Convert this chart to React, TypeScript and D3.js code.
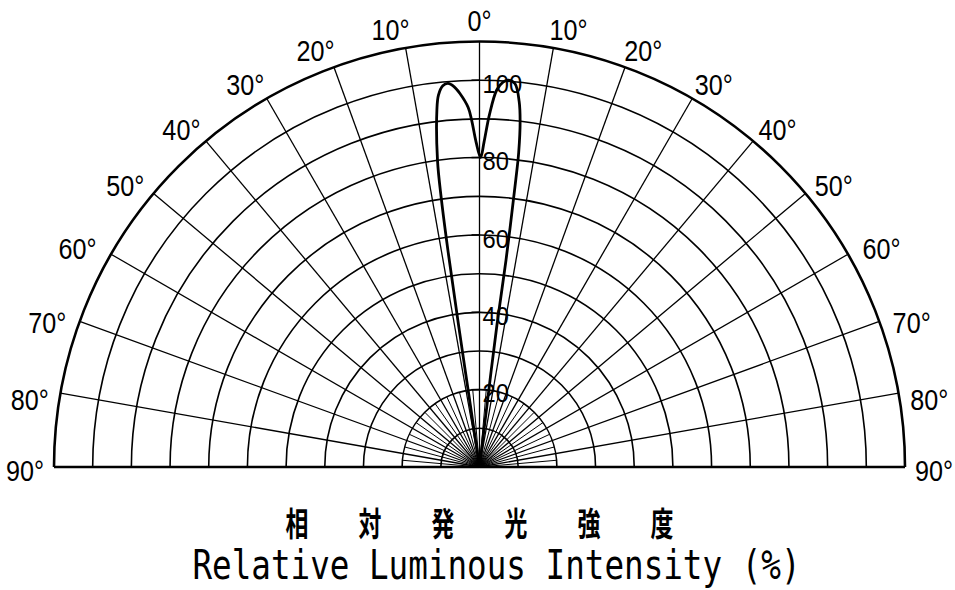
import React from "react";
import { scaleLinear, lineRadial, curveCatmullRom, range } from "d3";

// angle (deg, negative = left of axis) and relative intensity (%) along the traced curve
const curveAngles = [
  -8.5, -8.4, -8.4, -8.3, -8.1, -7.8, -6.8, -6.3, -5.5, -4.7, -3.8, -3.0, -1.8, -1.3, -0.6, 0.2,
  0.8, 1.6, 2.6, 3.5, 4.3, 5.3, 6.2, 6.7, 7.1, 7.2, 7.3, 7.0, 6.9, 6.9,
];
const curveValues = [
  0, 10, 37, 56, 70, 80, 93, 96.7, 99, 99.5, 98.5, 96.7, 93, 89.7, 84, 80,
  84, 91, 97.5, 99.7, 100.3, 99.5, 95, 90, 82, 75, 54, 37, 10, 0,
];

const ringValues = [10, 20, 30, 40, 50, 60, 70, 80, 90, 100, 110];
const radialLabels = [20, 40, 60, 80, 100];
const angleTicks = [0, 10, 20, 30, 40, 50, 60, 70, 80, 90];
const titleJa = ["相", "対", "発", "光", "強", "度"];
const titleEn = "Relative Luminous Intensity (%)";

const W = 955;
const H = 590;
const cx = 479.5;
const cy = 467;
const R = 425.5;

export default function App() {
  const r = scaleLinear().domain([0, 110]).range([0, R]);
  const toRad = (d: number) => (d * Math.PI) / 180;
  const pt = (deg: number, rad: number) => [cx + rad * Math.sin(toRad(deg)), cy - rad * Math.cos(toRad(deg))];

  const pts = curveAngles.map((a, i) => ({ a, v: curveValues[i] }));
  const curve = lineRadial<{ a: number; v: number }>()
    .angle((d) => toRad(d.a))
    .radius((d) => r(d.v))
    .curve(curveCatmullRom.alpha(0.5));

  const semi = (rad: number) => `M${cx - rad},${cy} A${rad},${rad} 0 0 1 ${cx + rad},${cy}`;

  const majorAngles = range(-90, 91, 10);
  const minorAngles = range(-85, 86, 10);

  // label placement: offset box outward from the tick, nudged a little round the arc
  const hw = 19;
  const hh = 11;
  const labelPos = (deg: number) => {
    const s = Math.abs(Math.sin(toRad(deg)));
    const c = Math.abs(Math.cos(toRad(deg)));
    const b = Math.min(s > 1e-6 ? hw / s : 1e9, c > 1e-6 ? hh / c : 1e9);
    const sign = deg < 0 ? -1 : 1;
    const a = deg === 0 ? 0 : sign * Math.min(Math.abs(deg) + 1.5, 90.5);
    return pt(a, R + 10 + b);
  };

  const angleLabels: { deg: number; text: string }[] = [];
  angleTicks.forEach((t) => {
    angleLabels.push({ deg: -t, text: `${t}°` });
    if (t !== 0) angleLabels.push({ deg: t, text: `${t}°` });
  });

  const jaStart = 297;
  const jaStep = 73;

  return (
    <svg width={W} height={H} style={{ position: "absolute", left: 0, top: 0, background: "#fff" }}>
      {/* minor radial lines near the centre */}
      {minorAngles.map((a) => {
        const [x, y] = pt(a, r(20));
        return <line key={`m${a}`} x1={cx} y1={cy} x2={x} y2={y} stroke="#000" strokeWidth={1} />;
      })}
      {/* major radial lines */}
      {majorAngles.map((a) => {
        const [x, y] = pt(a, R);
        return (
          <line
            key={`a${a}`}
            x1={cx}
            y1={cy}
            x2={x}
            y2={y}
            stroke="#000"
            strokeWidth={Math.abs(a) === 90 ? 2.5 : 1.3}
          />
        );
      })}
      {/* rings */}
      {ringValues.map((v) => (
        <path key={`r${v}`} d={semi(r(v))} fill="none" stroke="#000" strokeWidth={v === 110 ? 2.6 : 1.6} />
      ))}

      {/* radial value labels */}
      {radialLabels.map((v) => (
        <g key={`l${v}`}>
          <line x1={cx - 8} x2={cx} y1={cy - r(v)} y2={cy - r(v)} stroke="#000" strokeWidth={1.5} />
          <text
            transform={`translate(${cx + 3},${cy - r(v) + 4}) scale(0.95,1)`}
            fontFamily="Liberation Sans, Arial, sans-serif"
            fontSize={25}
            dominantBaseline="central"
            fill="#000"
          >
            {v}
          </text>
        </g>
      ))}

      {/* intensity curve */}
      <path
        d={curve(pts) ?? ""}
        transform={`translate(${cx},${cy})`}
        fill="none"
        stroke="#000"
        strokeWidth={2.8}
        strokeLinejoin="round"
      />

      {/* angle labels */}
      {angleLabels.map((l) => {
        const [x, y] = labelPos(l.deg);
        return (
          <text
            key={`t${l.deg}`}
            transform={`translate(${x},${y}) scale(0.84,1)`}
            textAnchor="middle"
            dominantBaseline="central"
            fontFamily="Liberation Sans, Arial, sans-serif"
            fontSize={30}
            fill="#000"
          >
            {l.text}
          </text>
        );
      })}

      {/* titles */}
      {titleJa.map((ch, i) => (
        <text
          key={`j${i}`}
          transform={`translate(${jaStart + i * jaStep},521) scale(0.74,1.08)`}
          textAnchor="middle"
          dominantBaseline="central"
          fontFamily="Noto Sans CJK JP"
          fontWeight={700}
          fontSize={31}
          fill="#000"
        >
          {ch}
        </text>
      ))}
      <text
        transform={`translate(496.5,579) scale(0.815,1)`}
        textAnchor="middle"
        fontFamily="DejaVu Sans Mono, monospace"
        fontSize={40}
        fill="#000"
      >
        {titleEn}
      </text>
    </svg>
  );
}
